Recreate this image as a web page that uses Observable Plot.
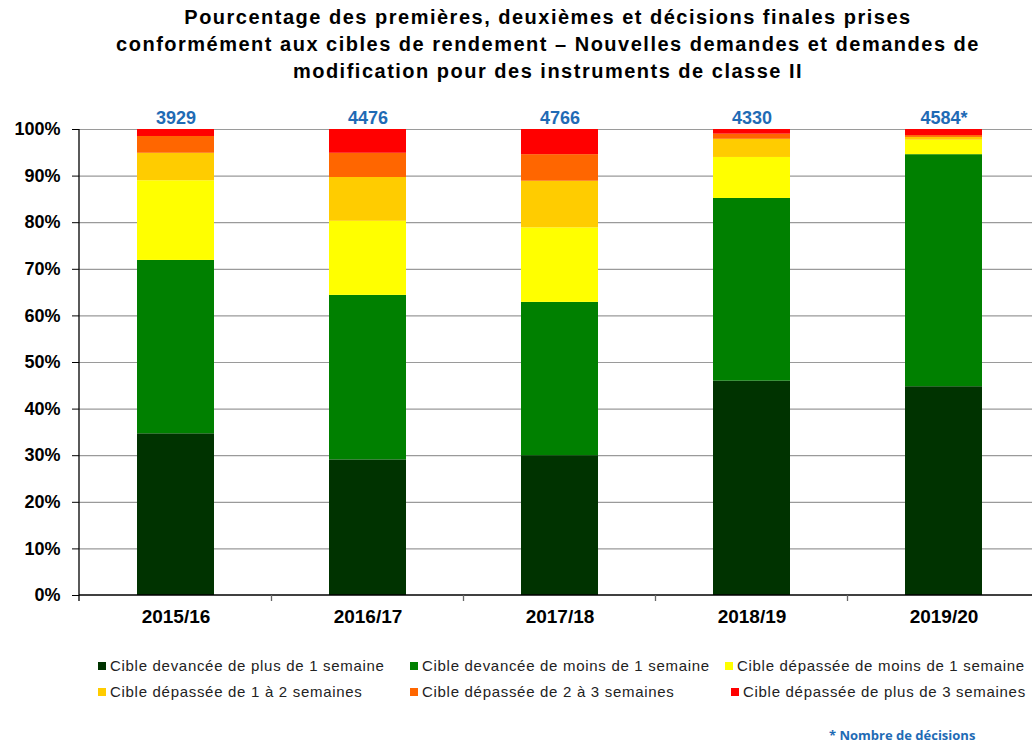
<!DOCTYPE html>
<html>
<head>
<meta charset="utf-8">
<script src="https://cdn.jsdelivr.net/npm/d3@7"></script>
<script src="https://cdn.jsdelivr.net/npm/@observablehq/plot@0.6"></script>
<style>
  html, body { margin: 0; padding: 0; background: #fff; }
  body { width: 1032px; height: 745px; overflow: hidden; font-family: "Liberation Sans", Arial, sans-serif; position: relative; }
  #title { font-weight: bold; font-size: 20px; letter-spacing: 1.5px; line-height: 27px; text-align: center; padding: 4px 0 0 64px; height: 82px; color: #000; white-space: nowrap; }
  #chart { width: 1032px; overflow: hidden; height: 554px; }
  #legend { position: relative; height: 60px; font-size: 15px; letter-spacing: 0.7px; color: #222; }
  .li { position: absolute; white-space: nowrap; line-height: 16px; }
  .sw { display: inline-block; width: 8px; height: 8px; margin-right: 4px; vertical-align: 1px; }
  #note { position: absolute; left: 829px; top: 726px; font-family: "Open Sans", sans-serif; font-weight: bold; font-size: 13px; color: #1f6bb5; }
</style>
</head>
<body>
<div id="title">Pourcentage des premières, deuxièmes et décisions finales prises<br>conformément aux cibles de rendement – Nouvelles demandes et demandes de<br>modification pour des instruments de classe II</div>
<div id="chart"></div>
<div id="legend"></div>
<div id="note">* Nombre de décisions</div>
<script>
const years = ["2015/16", "2016/17", "2017/18", "2018/19", "2019/20"];
const counts = ["3929", "4476", "4766", "4330", "4584*"];
const seriesNames = [
  "Cible devancée de plus de 1 semaine",
  "Cible devancée de moins de 1 semaine",
  "Cible dépassée de moins de 1 semaine",
  "Cible dépassée de 1 à 2 semaines",
  "Cible dépassée de 2 à 3 semaines",
  "Cible dépassée de plus de 3 semaines"
];
const seriesColors = ["#003300", "#008000", "#ffff00", "#ffcc00", "#ff6600", "#ff0000"];
const devanceePlus1 = [34.7, 29.1, 30.0, 46.0, 44.8];
const devanceeMoins1 = [37.2, 35.3, 32.9, 39.2, 49.8];
const depasseeMoins1 = [17.1, 15.9, 16.0, 8.8, 3.1];
const depassee1a2 = [5.9, 9.4, 10.0, 3.9, 0.6];
const depassee2a3 = [3.6, 5.2, 5.7, 1.1, 0.4];
const depasseePlus3 = [1.5, 5.1, 5.4, 1.0, 1.3];
const yTicks = [0, 10, 20, 30, 40, 50, 60, 70, 80, 90, 100];

const seriesValues = [devanceePlus1, devanceeMoins1, depasseeMoins1, depassee1a2, depassee2a3, depasseePlus3];
const rows = [];
seriesNames.forEach((s, si) => years.forEach((y, yi) => rows.push({year: y, series: s, value: seriesValues[si][yi]})));
const totals = years.map((y, yi) => ({year: y, count: counts[yi], total: d3.sum(seriesValues, v => v[yi])}));

const axisLines = (index, scales, values, dims) => {
  const x = scales.x, y = scales.y;
  const g = d3.create("svg:g").attr("stroke", "#000").attr("stroke-width", 1.3);
  const step = x(years[1]) - x(years[0]);
  const half = x.bandwidth() / 2;
  const y0 = y(0);
  g.append("line").attr("x1", dims.marginLeft).attr("x2", dims.marginLeft).attr("y1", y(100)).attr("y2", y0 + 6);
  g.append("line").attr("x1", dims.marginLeft).attr("x2", dims.width).attr("y1", y0).attr("y2", y0);
  years.forEach(c => {
    const bx = x(c) + half + step / 2;
    g.append("line").attr("x1", bx).attr("x2", bx).attr("y1", y0).attr("y2", y0 + 6).attr("stroke", "#666");
  });
  return g.node();
};

const plot = Plot.plot({
  width: 1040,
  height: 554,
  marginLeft: 79,
  marginRight: 0,
  marginTop: 43,
  marginBottom: 45,
  style: {fontFamily: "'Liberation Sans', Arial, sans-serif", background: "#fff", overflow: "visible", maxWidth: "none"},
  x: {domain: years, paddingInner: 0.6, paddingOuter: 0.3, label: null},
  y: {domain: [0, 100], label: null},
  color: {domain: seriesNames, range: seriesColors},
  marks: [
    Plot.gridY(yTicks.slice(1), {stroke: "#9a9a9a", strokeOpacity: 1, strokeWidth: 1.2}),
    Plot.barY(rows, {x: "year", y: "value", fill: "series", order: seriesNames}),
    Plot.axisY(yTicks, {tickFormat: d => d + "%", fontSize: 18, fontWeight: "bold", tickSize: 7, tickPadding: 12, stroke: "#000", fill: "#000"}),
    Plot.axisX({tickSize: 0, tickPadding: 14, fontSize: 19, fontWeight: "bold", fill: "#000"}),
    axisLines,
    Plot.text(totals, {x: "year", y: "total", text: "count", dy: -11, fontSize: 18, fontWeight: "bold", fill: "#1f6bb5"})
  ]
});
document.getElementById("chart").appendChild(plot);

const leg = document.getElementById("legend");
const lx = [98, 410, 725, 98, 410, 731];
seriesNames.forEach((s, i) => {
  const d = document.createElement("div");
  d.className = "li";
  d.style.left = lx[i] + "px";
  d.style.top = (i < 3 ? 18 : 44) + "px";
  d.innerHTML = `<span class="sw" style="background:${seriesColors[i]}"></span>${s}`;
  leg.appendChild(d);
});
</script>
</body>
</html>
